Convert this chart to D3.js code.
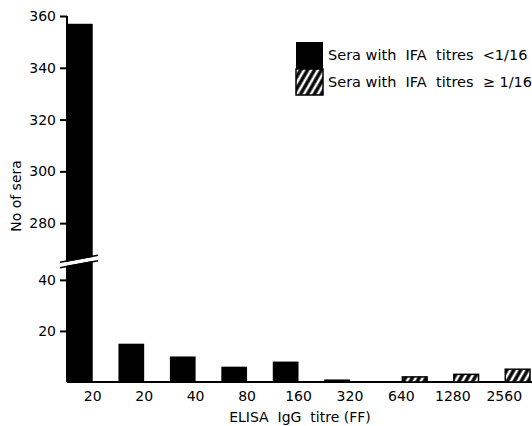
<!DOCTYPE html>
<html>
<head>
<meta charset="utf-8">
<script src="https://cdn.jsdelivr.net/npm/d3@7"></script>
<style>
  body { margin: 0; background: #fff; }
  svg text { font-family: "DejaVu Sans", sans-serif; fill: #000; }
</style>
</head>
<body>
<svg width="532" height="426"></svg>
<script>
// titre categories (first "20" bar is the big one)
var titres = ["20", "20", "40", "80", "160", "320", "640", "1280", "2560"];
// sera with IFA titres < 1/16
var lowIFA = [357, 15, 10, 6, 8, 1, 0, 0, 0];
// sera with IFA titres >= 1/16
var highIFA = [0, 0, 0, 0, 0, 0, 2, 3, 5];
var lowerTicks = [20, 40];
var upperTicks = [280, 300, 320, 340, 360];
var legendLabels = ["Sera with  IFA  titres  <1/16", "Sera with  IFA  titres  \u2265 1/16"];

var svg = d3.select("svg");

var x0 = 67, x1 = 530, base = 382, breakY = 262;

var x = d3.scaleBand()
  .domain(d3.range(titres.length))
  .range([x0, x1])
  .padding(0);

var xSeries = d3.scaleBand()
  .domain(["low", "high"])
  .range([0, x.bandwidth()]);

// broken y axis: two linear pieces
var yLow = d3.scaleLinear().domain([0, 47]).range([base, breakY]);
var yHigh = d3.scaleLinear().domain([265, 360]).range([breakY, 16]);
function y(v) { return v > 47 ? yHigh(v) : yLow(v); }

// hatch pattern
var defs = svg.append("defs");
var pat = defs.append("pattern")
  .attr("id", "hatch")
  .attr("patternUnits", "userSpaceOnUse")
  .attr("width", 6).attr("height", 6)
  .attr("patternTransform", "rotate(30)");
pat.append("rect").attr("width", 6).attr("height", 6).attr("fill", "#000");
pat.append("line")
  .attr("x1", 3).attr("y1", 0).attr("x2", 3).attr("y2", 6)
  .attr("stroke", "#fff").attr("stroke-width", 2.6);

var rows = titres.map(function (t, i) {
  return { i: i, low: lowIFA[i], high: highIFA[i] };
});

// baseline
svg.append("line")
  .attr("x1", x0).attr("x2", 532)
  .attr("y1", base).attr("y2", base)
  .attr("stroke", "#000").attr("stroke-width", 2);

// black bars
svg.append("g").selectAll("rect")
  .data(rows.filter(function (d) { return d.low > 0; }))
  .enter().append("rect")
    .attr("x", function (d) { return x(d.i) + xSeries("low"); })
    .attr("width", xSeries.bandwidth())
    .attr("y", function (d) { return y(d.low); })
    .attr("height", function (d) { return base - y(d.low); })
    .attr("fill", "#000");

// hatched bars
svg.append("g").selectAll("rect")
  .data(rows.filter(function (d) { return d.high > 0; }))
  .enter().append("rect")
    .attr("x", function (d) { return x(d.i) + xSeries("high") + 1; })
    .attr("width", xSeries.bandwidth() - 1)
    .attr("y", function (d) { return y(d.high); })
    .attr("height", function (d) { return base - y(d.high); })
    .attr("fill", "url(#hatch)")
    .attr("stroke", "#000").attr("stroke-width", 1.5);

// y axis line
svg.append("line")
  .attr("x1", x0).attr("x2", x0)
  .attr("y1", 16).attr("y2", base)
  .attr("stroke", "#000").attr("stroke-width", 2);

function styleAxis(g) {
  g.select(".domain").remove();
  g.selectAll(".tick line").attr("stroke", "#000").attr("stroke-width", 2);
  g.selectAll(".tick text").attr("font-size", 14).attr("dx", "-1");
}

svg.append("g")
  .attr("transform", "translate(" + x0 + ",0)")
  .call(d3.axisLeft(yLow).tickValues(lowerTicks).tickSize(7).tickPadding(3))
  .call(styleAxis);

svg.append("g")
  .attr("transform", "translate(" + x0 + ",0)")
  .call(d3.axisLeft(yHigh).tickValues(upperTicks).tickSize(7).tickPadding(3))
  .call(styleAxis);

// axis break marks
var bx0 = 60, bx1 = 98, gap = 4;
function slant(xx) { return breakY + 3 - (xx - bx0) * (7 / (bx1 - bx0)); }
svg.append("polygon")
  .attr("points", [
    [bx0, slant(bx0) - gap / 2], [bx1, slant(bx1) - gap / 2],
    [bx1, slant(bx1) + gap / 2], [bx0, slant(bx0) + gap / 2]
  ].join(" "))
  .attr("fill", "#fff");
[-1, 1].forEach(function (s) {
  svg.append("line")
    .attr("x1", bx0).attr("y1", slant(bx0) + s * (gap / 2 + 0.75))
    .attr("x2", bx1).attr("y2", slant(bx1) + s * (gap / 2 + 0.75))
    .attr("stroke", "#000").attr("stroke-width", 1.5);
});

// x axis labels
var xAxis = svg.append("g")
  .attr("transform", "translate(0," + base + ")")
  .call(d3.axisBottom(x).tickSize(0).tickPadding(9)
    .tickFormat(function (i) { return titres[i]; }));
xAxis.select(".domain").remove();
xAxis.selectAll(".tick text").attr("font-size", 14);

// axis titles
svg.append("text")
  .attr("x", 300).attr("y", 422)
  .attr("text-anchor", "middle")
  .attr("font-size", 14)
  .style("white-space", "pre")
  .text("ELISA  IgG  titre (FF)");

svg.append("text")
  .attr("transform", "translate(21,196) rotate(-90)")
  .attr("text-anchor", "middle")
  .attr("font-size", 14)
  .text("No of sera");

// legend
var lg = svg.append("g").attr("transform", "translate(296,42)");
lg.append("rect").attr("width", 27).attr("height", 27).attr("fill", "#000");
lg.append("rect").attr("y", 27).attr("width", 27).attr("height", 26)
  .attr("fill", "url(#hatch)").attr("stroke", "#000").attr("stroke-width", 1.5);
lg.selectAll("text.lab")
  .data(legendLabels)
  .enter().append("text")
    .attr("class", "lab")
    .attr("x", 32)
    .attr("y", function (d, i) { return 18 + i * 27; })
    .attr("font-size", 14.5)
    .style("white-space", "pre")
    .text(function (d) { return d; });
</script>
</body>
</html>
